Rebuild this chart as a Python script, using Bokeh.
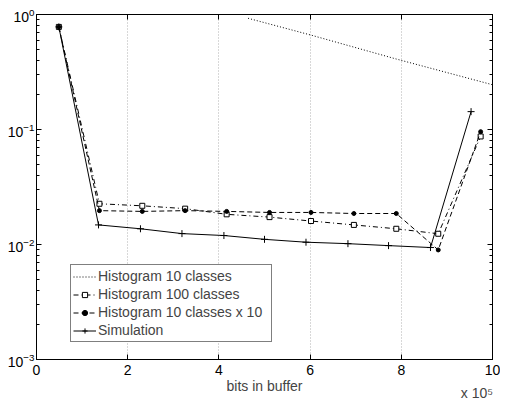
from bokeh.plotting import figure
from bokeh.models import (Range1d, LogTicker, FixedTicker, LinearAxis, LogAxis,
                          Legend, LegendItem, CustomJSTickFormatter)
from bokeh.embed import file_html
from bokeh.resources import INLINE

# ---- data (x in units of 1e5 bits) ----
hist10_x = [4.64, 6.02, 7.89, 10.0]
hist10_y = [0.927, 0.662, 0.41, 0.245]

hist100_x = [0.49, 1.38, 2.32, 3.26, 4.17, 5.11, 6.02, 6.96, 7.89, 8.81, 9.74]
hist100_y = [0.78, 0.0226, 0.0217, 0.0205, 0.0183, 0.0173, 0.0160, 0.0148, 0.0137, 0.0124, 0.087]

hist10x10_x = [0.49, 1.38, 2.32, 3.26, 4.17, 5.11, 6.02, 6.96, 7.89, 8.81, 9.74]
hist10x10_y = [0.78, 0.0197, 0.0194, 0.0197, 0.0194, 0.0190, 0.0190, 0.0186, 0.0186, 0.00897, 0.0957]

sim_x = [0.49, 1.36, 2.28, 3.19, 4.11, 5.00, 5.91, 6.83, 7.72, 8.64, 9.53]
sim_y = [0.78, 0.0148, 0.0137, 0.01244, 0.01197, 0.01109, 0.01047, 0.01017, 0.00978, 0.00941, 0.143]

x_ticks = [0, 2, 4, 6, 8, 10]
labels = ["Histogram 10 classes", "Histogram 100 classes", "Histogram 10 classes x 10", "Simulation"]
x_label = "bits in buffer"
x_mult = "x 10\u2075"

FONT = "Liberation Sans"

p = figure(width=500, height=403, y_axis_type="log",
           x_range=Range1d(0, 10), y_range=Range1d(1e-3, 1),
           output_backend="svg", toolbar_location=None,
           min_border_left=36, min_border_right=8, min_border_top=14, min_border_bottom=39)
p.background_fill_color = "white"
p.border_fill_color = "white"
p.outline_line_color = "black"
p.outline_line_width = 1

p.xaxis.ticker = FixedTicker(ticks=x_ticks)
p.yaxis.ticker = LogTicker(num_minor_ticks=10)
for ax in p.xaxis + p.yaxis:
    ax.major_tick_in = 5
    ax.major_tick_out = 0
    ax.minor_tick_in = 3
    ax.minor_tick_out = 0
    ax.axis_line_color = "black"
    ax.major_label_text_font = FONT
    ax.major_label_text_font_size = "14px"
    ax.major_label_text_color = "black"
p.xaxis.minor_tick_line_color = None
p.xaxis.major_label_standoff = 5
p.yaxis.major_label_standoff = 2
p.xaxis.axis_label = x_label
p.xaxis.axis_label_text_font = FONT
p.xaxis.axis_label_text_font_size = "14px"
p.xaxis.axis_label_text_font_style = "normal"
p.xaxis.axis_label_standoff = 0

blank = CustomJSTickFormatter(code="return ''")
top = LinearAxis(ticker=FixedTicker(ticks=x_ticks), formatter=blank, major_tick_in=5, major_tick_out=0,
                 minor_tick_line_color=None, major_label_text_font_size="1px",
                 major_label_standoff=0, axis_line_color="black")
p.add_layout(top, "above")
right = LogAxis(ticker=LogTicker(num_minor_ticks=10), formatter=blank, major_tick_in=5, major_tick_out=0,
                minor_tick_in=3, minor_tick_out=0, major_label_text_font_size="1px",
                major_label_standoff=0, axis_line_color="black")
p.add_layout(right, "right")

# the axis label is centred on the frame's right end; trailing no-break spaces
# shift the visible text left so that it ends at the frame edge
mult = LinearAxis(ticker=FixedTicker(ticks=[]), axis_line_color=None,
                  major_tick_line_color=None, minor_tick_line_color=None,
                  axis_label=x_mult + "\u00a0" * 8, axis_label_align="end",
                  axis_label_text_font=FONT, axis_label_text_font_size="14px",
                  axis_label_text_font_style="normal", axis_label_standoff=-12,
                  major_label_text_font_size="1px", major_label_standoff=0)
p.add_layout(mult, "below")

p.xgrid.grid_line_color = "#b0b0b0"
p.xgrid.grid_line_dash = "1 2"
p.ygrid.grid_line_color = None

r1 = p.line(hist10_x, hist10_y, line_color="black", line_width=1, line_dash="1 2")
r2 = p.line(hist100_x, hist100_y, line_color="black", line_width=1, line_dash="5 3 1 3")
m2 = p.scatter(hist100_x, hist100_y, marker="square", size=5, fill_color="white", line_color="black")
r3 = p.line(hist10x10_x, hist10x10_y, line_color="black", line_width=1, line_dash="5 3")
m3 = p.scatter(hist10x10_x, hist10x10_y, marker="circle", size=4, fill_color="black", line_color="black")
r4 = p.line(sim_x, sim_y, line_color="black", line_width=1)
m4 = p.scatter(sim_x, sim_y, marker="cross", size=7, line_color="black")

legend = Legend(items=[LegendItem(label=labels[0], renderers=[r1]),
                       LegendItem(label=labels[1], renderers=[r2, m2]),
                       LegendItem(label=labels[2], renderers=[r3, m3]),
                       LegendItem(label=labels[3], renderers=[r4, m4])],
                location=(34, 17), label_text_font=FONT, label_text_font_size="14px",
                border_line_color="black", border_line_width=1, background_fill_alpha=1,
                padding=2, spacing=0, margin=0, glyph_width=23, glyph_height=13,
                label_height=18, label_width=171, label_standoff=2)
p.add_layout(legend, "center")

open("out.html", "w").write(file_html(p, INLINE))
